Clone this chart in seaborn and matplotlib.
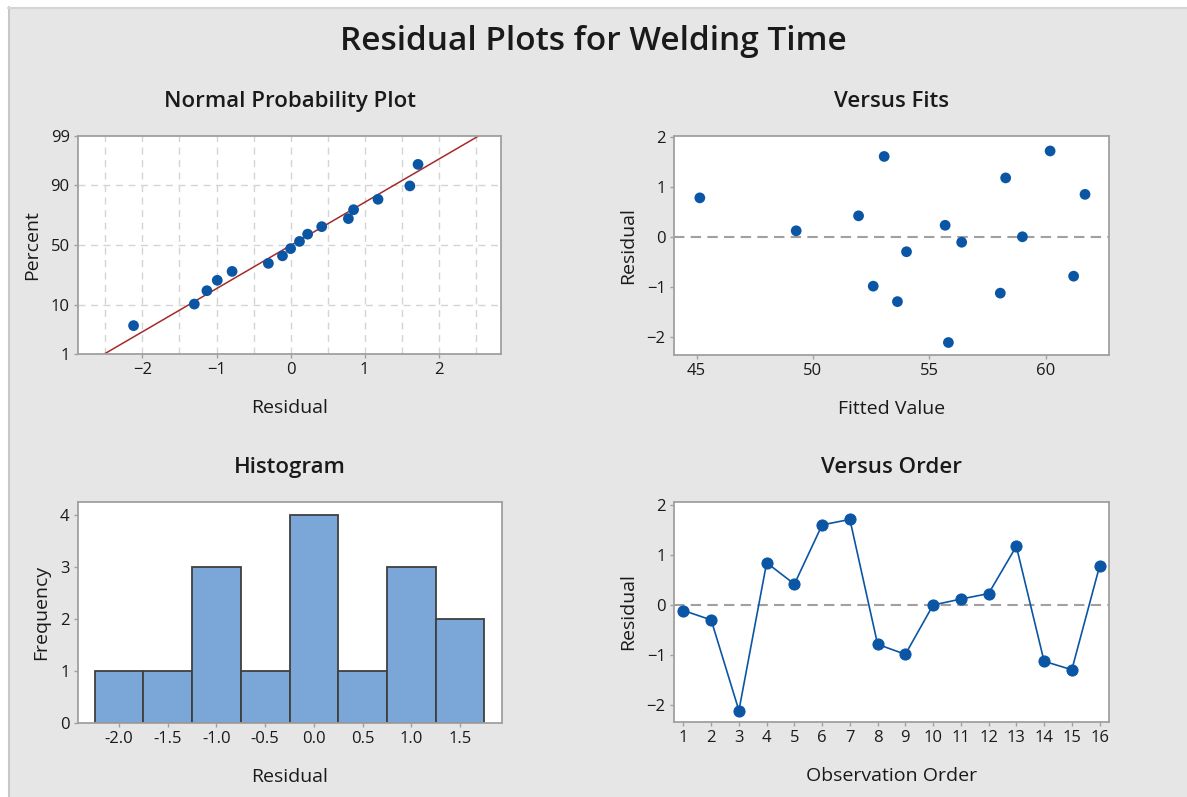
from statistics import NormalDist

import numpy as np
import pandas as pd
import matplotlib
matplotlib.use("Agg")
import matplotlib.pyplot as plt
from matplotlib.patches import Rectangle
from matplotlib.lines import Line2D
import seaborn as sns

# residuals and fits, in observation order
order = list(range(1, 17))
residuals = [-0.11, -0.30, -2.12, 0.85, 0.42, 1.61, 1.72, -0.79,
             -0.99, 0.00, 0.12, 0.23, 1.18, -1.13, -1.30, 0.78]
fitted = [56.39, 54.02, 55.82, 61.69, 51.96, 53.06, 60.19, 61.20,
          52.59, 59.00, 49.28, 55.68, 58.28, 58.05, 53.63, 45.14]

pct_ticks = [1, 10, 50, 90, 99]
hist_ticks = [-2.0, -1.5, -1.0, -0.5, 0.0, 0.5, 1.0, 1.5]

BG = "#e6e6e6"
DOT = "#0b56a4"
BAR = "#7ba6d8"
SPINE = "#a0a0a0"
TXT = "#1a1a1a"

sns.set_theme(style="white")
plt.rcParams["font.family"] = ["Open Sans", "DejaVu Sans"]

df = pd.DataFrame({"order": order, "resid": residuals, "fit": fitted})

# normal scores with Benard median ranks
nd = NormalDist()
n = len(df)
srt = np.sort(df["resid"].values)
ranks = (np.arange(1, n + 1) - 0.3) / (n + 0.4)
zscore = np.array([nd.inv_cdf(p) for p in ranks])
mu, sd = df["resid"].mean(), df["resid"].std(ddof=1)
zlim = nd.inv_cdf(0.99)
z_line = np.array([-zlim, zlim])
x_line = mu + sd * z_line

W, H = 1187, 797
fig = plt.figure(figsize=(W / 100, H / 100), dpi=100, facecolor=BG)
# white window strips at top and left, like the Minitab graph window
fig.patches.append(Rectangle((0, 1 - 7 / H), 1, 7 / H, transform=fig.transFigure,
                             facecolor="white", edgecolor="none", zorder=-1))
fig.patches.append(Rectangle((0, 0), 8 / W, 1, transform=fig.transFigure,
                             facecolor="white", edgecolor="none", zorder=-1))
fig.lines.append(Line2D([8.5 / W, 8.5 / W], [0, 1 - 7 / H], transform=fig.transFigure,
                        color="#c8c8c8", lw=1.5))
fig.lines.append(Line2D([8 / W, 1], [1 - 7.5 / H, 1 - 7.5 / H], transform=fig.transFigure,
                        color="#d4d4d4", lw=1.5))


def box(l, t, r, b):
    return [l / W, 1 - b / H, (r - l) / W, (b - t) / H]


def style(ax):
    ax.set_facecolor("white")
    for s in ax.spines.values():
        s.set_color(SPINE)
        s.set_linewidth(1.3)
    ax.tick_params(axis="both", which="both", length=3, width=1, color=SPINE,
                   direction="out", labelsize=12, labelcolor=TXT, pad=3,
                   bottom=True, left=True)


def titles(ax, title, xlabel, ylabel):
    ax.set_title(title, fontsize=16, fontweight="semibold", color=TXT, pad=21)
    ax.set_xlabel(xlabel, fontsize=14, color=TXT, labelpad=15)
    ax.set_ylabel(ylabel, fontsize=14, color=TXT, labelpad=7)


ax_prob = fig.add_axes(box(78, 136, 501, 354))
ax_fits = fig.add_axes(box(674, 136, 1109, 355))
ax_hist = fig.add_axes(box(78, 502, 502, 723))
ax_ord = fig.add_axes(box(674, 502, 1109, 722))

# --- normal probability plot
for g in np.arange(-2.5, 2.51, 0.5):
    ax_prob.axvline(g, color="#d4d4d4", lw=1, ls=(0, (5, 4)), zorder=0)
for p in [10, 50, 90]:
    ax_prob.axhline(nd.inv_cdf(p / 100), color="#d4d4d4", lw=1, ls=(0, (5, 4)), zorder=0)
sns.lineplot(x=x_line, y=z_line, ax=ax_prob, color="#a52a2a", lw=1.1, zorder=2)
sns.scatterplot(x=srt, y=zscore, ax=ax_prob, color=DOT, s=60, edgecolor="none", zorder=3)
ax_prob.set_xlim(-2.87, 2.84)
ax_prob.set_ylim(-zlim, zlim)
ax_prob.set_xticks([-2, -1, 0, 1, 2])
ax_prob.set_yticks([nd.inv_cdf(p / 100) for p in pct_ticks])
ax_prob.set_yticklabels([str(p) for p in pct_ticks])
style(ax_prob)
titles(ax_prob, "Normal Probability Plot", "Residual", "Percent")

# --- versus fits
ax_fits.axhline(0, color="#a0a0a0", lw=1.5, ls=(0, (5, 3)), zorder=1)
sns.scatterplot(data=df, x="fit", y="resid", ax=ax_fits, color=DOT, s=60,
                edgecolor="none", zorder=3)
ax_fits.set_xlim(44.03, 62.72)
ax_fits.set_ylim(-2.37, 2.02)
ax_fits.set_xticks([45, 50, 55, 60])
ax_fits.set_yticks([-2, -1, 0, 1, 2])
style(ax_fits)
titles(ax_fits, "Versus Fits", "Fitted Value", "Residual")

# --- histogram
edges = np.arange(-2.25, 1.76, 0.5)
sns.histplot(data=df, x="resid", bins=edges, ax=ax_hist, color=BAR, alpha=1,
             edgecolor="#3f3f3f", linewidth=1.3)
ax_hist.set_xlim(-2.42, 1.93)
ax_hist.set_ylim(0, 4.24)
ax_hist.set_xticks(hist_ticks)
ax_hist.set_xticklabels([f"{v:.1f}" for v in hist_ticks])
ax_hist.set_yticks([0, 1, 2, 3, 4])
style(ax_hist)
titles(ax_hist, "Histogram", "Residual", "Frequency")

# --- versus order
ax_ord.axhline(0, color="#a0a0a0", lw=1.5, ls=(0, (5, 3)), zorder=1)
sns.lineplot(data=df, x="order", y="resid", ax=ax_ord, color=DOT, lw=1.2,
             marker="o", markersize=8, markeredgecolor=DOT, zorder=3)
ax_ord.set_xlim(0.66, 16.34)
ax_ord.set_ylim(-2.35, 2.07)
ax_ord.set_xticks(order)
ax_ord.set_yticks([-2, -1, 0, 1, 2])
style(ax_ord)
titles(ax_ord, "Versus Order", "Observation Order", "Residual")

fig.text(0.5, 1 - 41 / H, "Residual Plots for Welding Time", ha="center", va="center",
         fontsize=24, fontweight="semibold", color=TXT)

fig.savefig("out.png", dpi=100, facecolor=BG)
